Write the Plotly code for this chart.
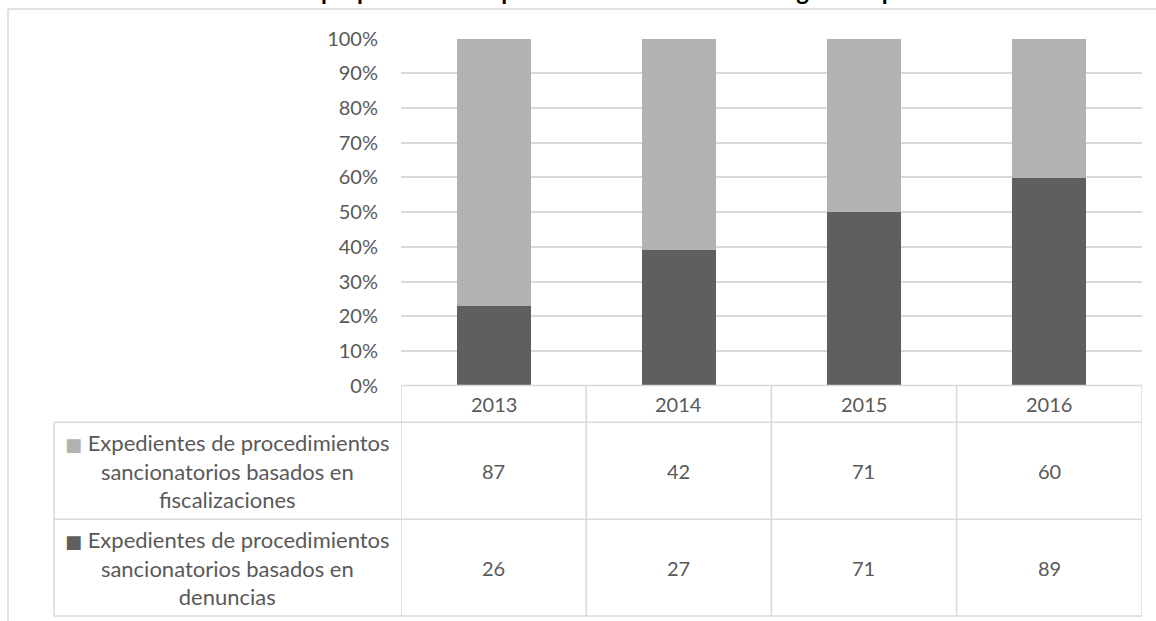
import plotly.graph_objects as go

# --- data -------------------------------------------------------------
years = ["2013", "2014", "2015", "2016"]
fiscalizaciones = [87, 42, 71, 60]
denuncias = [26, 27, 71, 89]
series_names = [
    "Expedientes de procedimientos<br>sancionatorios basados en<br>fiscalizaciones",
    "Expedientes de procedimientos<br>sancionatorios basados en<br>denuncias",
]
title_text = "Evolución de la proporción de expedientes sancionatorios según el tipo de inicio"

# --- styling ----------------------------------------------------------
W, H = 1156, 621
LIGHT = "#b2b2b2"
DARK = "#5f5f5f"
GRID = "#d9d9d9"
TXT = "#595959"
FONT = "Lato"

# pixel layout of plot area and data table
X_LEFT, X_RIGHT = 401, 1141.7
Y_TOP, Y_ZERO = 38.6, 385.8
ROW_LINES = [385.5, 422.3, 519.3, 616.0]   # table horizontal borders (px)
LEGEND_LEFT = 54


def py(px):
    """pixel y -> paper y"""
    return 1 - px / H


def pxx(px):
    """pixel x -> paper x"""
    return px / W


fig = go.Figure()
fig.add_bar(x=years, y=denuncias, name="denuncias", marker_color=DARK,
            marker_line_width=0, showlegend=False)
fig.add_bar(x=years, y=fiscalizaciones, name="fiscalizaciones", marker_color=LIGHT,
            marker_line_width=0, showlegend=False)

shapes = []
annotations = []

# outer chart frame (top and left edges visible)
shapes.append(dict(type="line", xref="paper", yref="paper", x0=pxx(8), x1=1.01,
                   y0=py(9), y1=py(9), line=dict(color=GRID, width=1.5)))
shapes.append(dict(type="line", xref="paper", yref="paper", x0=pxx(8), x1=pxx(8),
                   y0=py(9), y1=-0.01, line=dict(color=GRID, width=1.5)))

# table: horizontal borders
for i, yl in enumerate(ROW_LINES):
    x0 = X_LEFT if i == 0 else LEGEND_LEFT
    shapes.append(dict(type="line", xref="paper", yref="paper", x0=pxx(x0), x1=pxx(X_RIGHT),
                       y0=py(yl), y1=py(yl), line=dict(color=GRID, width=1.5)))
# table: vertical borders between categories (category index coordinates)
n = len(years)
for k in range(n + 1):
    shapes.append(dict(type="line", xref="x", yref="paper", x0=k - 0.5, x1=k - 0.5,
                       y0=py(ROW_LINES[0]), y1=py(ROW_LINES[-1]),
                       line=dict(color=GRID, width=1.5)))
# legend column left border
shapes.append(dict(type="line", xref="paper", yref="paper", x0=pxx(LEGEND_LEFT),
                   x1=pxx(LEGEND_LEFT), y0=py(ROW_LINES[1]), y1=py(ROW_LINES[-1]),
                   line=dict(color=GRID, width=1.5)))

cell_font = dict(family=FONT, size=20, color=TXT)

# header row: years
yc_head = (ROW_LINES[0] + ROW_LINES[1]) / 2
for k, yr in enumerate(years):
    annotations.append(dict(x=k, xref="x", y=py(yc_head), yref="paper", text=yr,
                            xanchor="center", yanchor="middle", showarrow=False,
                            font=cell_font))

# value rows
rows = [(series_names[0], LIGHT, fiscalizaciones), (series_names[1], DARK, denuncias)]
for r, (label, col, vals) in enumerate(rows):
    yc = (ROW_LINES[r + 1] + ROW_LINES[r + 2]) / 2
    for k, v in enumerate(vals):
        annotations.append(dict(x=k, xref="x", y=py(yc), yref="paper", text=str(v),
                                xanchor="center", yanchor="middle", showarrow=False,
                                font=cell_font))
    legend_text = (f'<span style="color:{col};font-family:DejaVu Sans;font-size:18px">■</span> '
                   + label)
    annotations.append(dict(x=pxx((LEGEND_LEFT + X_LEFT) / 2), xref="paper", y=py(yc),
                            yref="paper", text=legend_text, showarrow=False, align="center",
                            xanchor="center", yanchor="middle",
                            font=dict(family=FONT, size=22, color=TXT)))

# title (sits above the visible frame)
annotations.append(dict(x=pxx(580), xref="paper", y=1, yref="paper", yanchor="bottom",
                        xanchor="center", yshift=-7, text=f"<b>{title_text}</b>",
                        showarrow=False, font=dict(family=FONT, size=24, color="#000000")))

fig.update_layout(
    width=W, height=H,
    margin=dict(l=0, r=0, t=0, b=0, autoexpand=False),
    paper_bgcolor="white", plot_bgcolor="white",
    barmode="stack", barnorm="percent", bargap=0.6,
    xaxis=dict(type="category", domain=[pxx(X_LEFT), pxx(X_RIGHT)], range=[-0.5, n - 0.5],
               showticklabels=False, showgrid=False, zeroline=False, showline=False,
               automargin=False),
    yaxis=dict(domain=[py(Y_ZERO), py(Y_TOP)], range=[0, 100], dtick=10,
               ticksuffix="%", showgrid=True, gridcolor=GRID, gridwidth=1.5,
               zeroline=False, showline=False, ticks="", ticklabelstandoff=22,
               automargin=False, tickfont=dict(family=FONT, size=20, color=TXT)),
    shapes=shapes, annotations=annotations,
)

fig.write_html("out.html")
